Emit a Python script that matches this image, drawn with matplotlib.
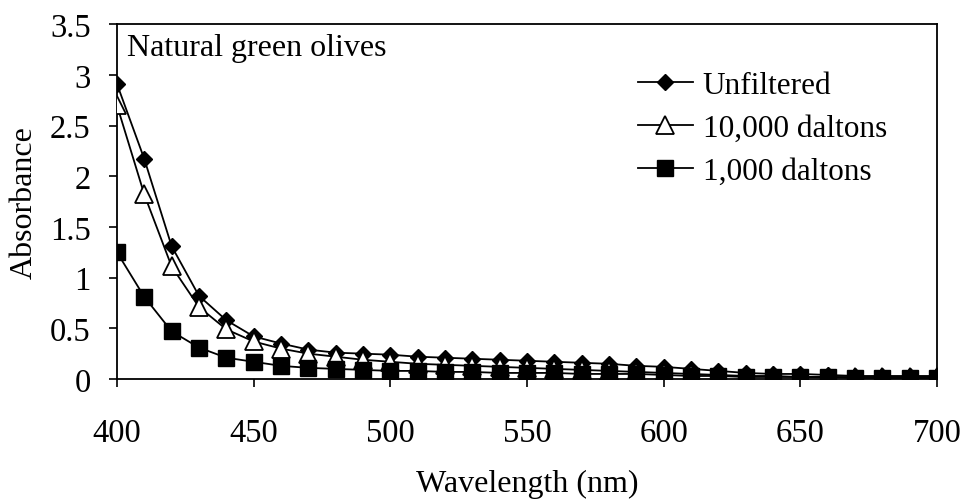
import matplotlib
matplotlib.use("Agg")
import matplotlib.pyplot as plt
import numpy as np

wavelength = list(range(400, 701, 10))
unfiltered = [2.91, 2.17, 1.31, 0.82, 0.58, 0.42, 0.35, 0.29, 0.26, 0.25, 0.24,
              0.22, 0.21, 0.20, 0.19, 0.18, 0.17, 0.16, 0.15, 0.13, 0.12,
              0.10, 0.08, 0.06, 0.05, 0.05, 0.04, 0.03, 0.03, 0.03, 0.03]
d10000 = [2.70, 1.82, 1.11, 0.71, 0.49, 0.37, 0.30, 0.25, 0.22, 0.19, 0.17,
          0.15, 0.14, 0.13, 0.12, 0.11, 0.10, 0.09, 0.08, 0.07, 0.06,
          0.05, 0.04, 0.03, 0.03, 0.02, 0.02, 0.02, 0.02, 0.02, 0.02]
d1000 = [1.25, 0.81, 0.47, 0.31, 0.21, 0.17, 0.13, 0.11, 0.10, 0.09, 0.08,
         0.08, 0.07, 0.07, 0.06, 0.06, 0.06, 0.05, 0.05, 0.05, 0.04,
         0.03, 0.03, 0.02, 0.02, 0.02, 0.02, 0.01, 0.01, 0.01, 0.01]
labels = ["Unfiltered", "10,000 daltons", "1,000 daltons"]

plt.rcParams['font.family'] = ['Liberation Serif', 'DejaVu Serif']

fig = plt.figure(figsize=(9.65, 5.02), dpi=100)
ax = fig.add_axes([0.1212, 0.243, 0.8498, 0.707])

lw = 1.3
ax.plot(wavelength, unfiltered, color='black', lw=lw, marker='D', markersize=8,
        markerfacecolor='black', markeredgecolor='black', label=labels[0], zorder=3)
ax.plot(wavelength, d10000, color='black', lw=lw, marker='^', markersize=13,
        markerfacecolor='white', markeredgecolor='black', markeredgewidth=1.3,
        label=labels[1], zorder=4)
ax.plot(wavelength, d1000, color='black', lw=lw, marker='s', markersize=12,
        markerfacecolor='black', markeredgecolor='black', label=labels[2], zorder=5)

ax.set_xlim(400, 700)
ax.set_ylim(0, 3.5)
ax.set_xticks([400, 450, 500, 550, 600, 650, 700])
ax.set_yticks([0, 0.5, 1, 1.5, 2, 2.5, 3, 3.5])
ax.set_yticklabels(["0", "0.5", "1", "1.5", "2", "2.5", "3", "3.5"])
ax.tick_params(axis='both', direction='out', length=6, width=1.2, labelsize=23.5,
               colors='black')
ax.tick_params(axis='x', pad=22)
ax.tick_params(axis='y', pad=13)
for s in ax.spines.values():
    s.set_linewidth(1.3)
    s.set_color('black')

ax.set_xlabel("Wavelength (nm)", fontsize=23, labelpad=15)
ax.set_ylabel("Absorbance", fontsize=23, labelpad=8)

ax.text(0.012, 0.975, "Natural green olives", transform=ax.transAxes,
        fontsize=23, va='top', ha='left')

leg = ax.legend(loc='upper left', bbox_to_anchor=(0.635, 0.868), frameon=False,
                fontsize=22.5, handlelength=1.76, handletextpad=0.32,
                labelspacing=0.45, borderaxespad=0, borderpad=0)

fig.savefig("out.png", dpi=100)
